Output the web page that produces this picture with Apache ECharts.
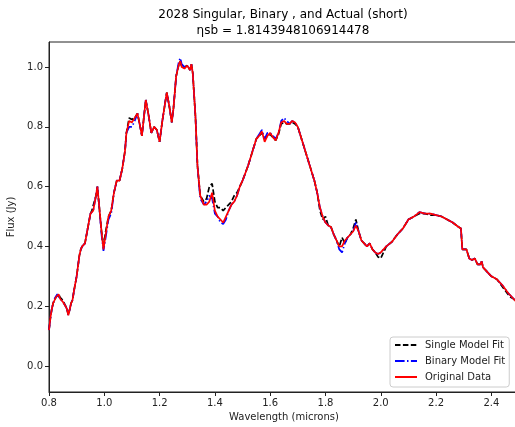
<!DOCTYPE html>
<html>
<head>
<meta charset="utf-8">
<script src="https://cdn.jsdelivr.net/npm/echarts@6/dist/echarts.min.js"></script>
<style>html,body{margin:0;padding:0;background:#fff}#c{width:515px;height:427px}</style>
</head>
<body>
<div id="c"></div>
<script>
const wavelength = [0.800,0.805,0.810,0.815,0.820,0.825,0.830,0.835,0.840,0.845,0.850,0.855,0.860,0.865,0.870,0.875,0.880,0.885,0.890,0.900,
0.910,0.915,0.920,0.930,0.940,0.950,0.955,0.960,0.970,0.975,0.980,0.990,0.997,1.005,1.015,1.025,1.035,1.045,1.055,1.065,
1.075,1.080,1.090,1.100,1.110,1.120,1.130,1.136,1.150,1.160,1.170,1.180,1.190,1.200,1.210,1.220,1.226,1.235,1.244,1.250,
1.260,1.270,1.275,1.280,1.290,1.300,1.310,1.315,1.320,1.330,1.337,1.347,1.360,1.370,1.380,1.390,1.400,1.410,1.420,1.430,
1.440,1.450,1.460,1.470,1.480,1.490,1.500,1.510,1.520,1.530,1.540,1.550,1.560,1.570,1.580,1.590,1.600,1.610,1.620,1.630,
1.640,1.650,1.660,1.670,1.680,1.690,1.700,1.710,1.720,1.730,1.740,1.750,1.760,1.770,1.780,1.790,1.800,1.810,1.820,1.830,
1.840,1.850,1.860,1.870,1.880,1.890,1.900,1.910,1.920,1.930,1.940,1.950,1.960,1.970,1.980,1.990,2.000,2.020,2.040,2.060,
2.080,2.100,2.120,2.140,2.160,2.180,2.200,2.220,2.240,2.260,2.280,2.290,2.295,2.300,2.310,2.320,2.330,2.340,2.350,2.360,
2.365,2.370,2.380,2.390,2.400,2.420,2.440,2.460,2.470,2.480,2.490,2.500];

const singleFit = [0.12,0.16,0.19,0.21,0.22,0.23,0.235,0.24,0.23,0.23,0.22,0.22,0.20,0.19,0.17,0.19,0.21,0.22,0.25,0.30,
0.37,0.39,0.40,0.41,0.46,0.51,0.52,0.52,0.57,0.60,0.55,0.45,0.40,0.45,0.50,0.52,0.58,0.62,0.62,0.66,
0.72,0.78,0.83,0.825,0.83,0.845,0.80,0.77,0.89,0.84,0.78,0.80,0.79,0.75,0.82,0.88,0.915,0.87,0.815,0.86,
0.97,1.01,1.02,1.00,1.00,1.005,0.99,1.01,0.98,0.83,0.67,0.57,0.55,0.56,0.60,0.61,0.55,0.53,0.53,0.52,
0.53,0.54,0.55,0.57,0.58,0.60,0.62,0.645,0.67,0.70,0.73,0.76,0.77,0.78,0.76,0.77,0.775,0.765,0.755,0.775,
0.81,0.815,0.81,0.81,0.815,0.81,0.80,0.77,0.74,0.71,0.68,0.65,0.62,0.58,0.52,0.49,0.50,0.47,0.465,0.44,
0.42,0.40,0.43,0.41,0.43,0.44,0.46,0.49,0.45,0.42,0.41,0.40,0.41,0.39,0.38,0.365,0.36,0.40,0.415,0.44,
0.46,0.49,0.50,0.51,0.51,0.505,0.505,0.50,0.49,0.48,0.466,0.46,0.39,0.385,0.39,0.36,0.355,0.36,0.34,0.34,
0.35,0.33,0.32,0.31,0.30,0.29,0.265,0.24,0.23,0.225,0.215,0.21];

const binaryFit = [0.12,0.16,0.19,0.21,0.225,0.23,0.24,0.24,0.225,0.23,0.215,0.22,0.20,0.19,0.17,0.19,0.21,0.22,0.25,0.30,
0.37,0.39,0.40,0.41,0.46,0.51,0.515,0.52,0.57,0.60,0.55,0.44,0.385,0.43,0.49,0.51,0.58,0.62,0.62,0.66,
0.72,0.78,0.80,0.80,0.82,0.845,0.80,0.77,0.89,0.84,0.78,0.80,0.79,0.75,0.82,0.88,0.915,0.87,0.815,0.86,
0.97,1.02,1.03,1.01,1.00,1.005,0.99,1.01,0.98,0.83,0.67,0.56,0.54,0.55,0.57,0.56,0.51,0.50,0.48,0.475,
0.49,0.52,0.54,0.55,0.57,0.60,0.62,0.645,0.67,0.70,0.73,0.76,0.775,0.79,0.76,0.78,0.78,0.77,0.76,0.78,
0.82,0.83,0.82,0.81,0.82,0.815,0.80,0.77,0.74,0.71,0.68,0.65,0.62,0.58,0.53,0.50,0.48,0.47,0.465,0.44,
0.42,0.39,0.38,0.41,0.43,0.44,0.45,0.48,0.45,0.42,0.41,0.40,0.41,0.39,0.38,0.375,0.38,0.40,0.415,0.44,
0.46,0.49,0.50,0.515,0.51,0.51,0.505,0.50,0.49,0.48,0.466,0.46,0.39,0.385,0.39,0.36,0.355,0.36,0.34,0.34,
0.35,0.33,0.32,0.31,0.30,0.29,0.27,0.245,0.235,0.225,0.215,0.21];

const originalData = [0.12,0.16,0.19,0.21,0.22,0.23,0.235,0.24,0.225,0.23,0.215,0.22,0.20,0.19,0.17,0.19,0.21,0.22,0.25,0.30,
0.37,0.39,0.40,0.41,0.46,0.51,0.515,0.52,0.57,0.60,0.55,0.45,0.39,0.44,0.50,0.52,0.58,0.62,0.62,0.66,
0.72,0.78,0.82,0.815,0.83,0.845,0.80,0.77,0.89,0.84,0.78,0.80,0.79,0.75,0.82,0.88,0.915,0.87,0.815,0.86,
0.97,1.01,1.02,1.00,0.995,1.005,0.99,1.01,0.98,0.83,0.67,0.57,0.54,0.54,0.55,0.58,0.52,0.50,0.49,0.48,
0.50,0.52,0.54,0.55,0.57,0.60,0.62,0.645,0.67,0.70,0.73,0.76,0.77,0.785,0.75,0.77,0.78,0.765,0.755,0.78,
0.815,0.82,0.81,0.81,0.82,0.815,0.80,0.77,0.74,0.71,0.68,0.65,0.62,0.58,0.53,0.50,0.48,0.47,0.465,0.44,
0.42,0.40,0.40,0.42,0.43,0.44,0.45,0.47,0.45,0.42,0.41,0.40,0.41,0.39,0.38,0.375,0.38,0.40,0.415,0.44,
0.46,0.49,0.50,0.515,0.51,0.51,0.505,0.50,0.49,0.48,0.466,0.46,0.39,0.385,0.39,0.36,0.355,0.36,0.34,0.34,
0.35,0.33,0.32,0.31,0.30,0.29,0.27,0.245,0.235,0.225,0.215,0.21];

const xTicks = [0.8,1.0,1.2,1.4,1.6,1.8,2.0,2.2,2.4];
const yTicks = [0.0,0.2,0.4,0.6,0.8,1.0];
const seriesNames = ['Single Model Fit','Binary Model Fit','Original Data'];
const titleLines = ['2028 Singular, Binary , and Actual (short)','\u03b7sb = 1.8143948106914478'];

const pairs = arr => wavelength.map((w,i)=>[w,arr[i]]);
const isTick = (v,ticks) => ticks.some(t=>Math.abs(t-v)<1e-6);
const FONT = 'DejaVu Sans';

const chart = echarts.init(document.getElementById('c'), null, {renderer:'canvas'});
chart.setOption({
  animation:false,
  textStyle:{fontFamily:FONT},
  title:{
    text: titleLines.join('\n'),
    left: 283, top: 7, textAlign:'center', padding:0,
    textStyle:{fontFamily:FONT,fontSize:12,fontWeight:'normal',color:'#000',lineHeight:16}
  },
  grid:{left:49, top:42, width:470, height:350, show:true, borderColor:'#222', borderWidth:1,
        containLabel:false, outerBoundsMode:'none'},
  xAxis:{
    type:'value', min:0.8, max:2.5, interval:0.2,
    splitLine:{show:false},
    axisLine:{show:true,onZero:false,lineStyle:{color:'#222',width:1}},
    axisTick:{show:true,inside:false,length:4,lineStyle:{color:'#222'},
      customValues: xTicks},
    axisLabel:{color:'#222',fontSize:10,margin:6,fontFamily:FONT,
      customValues: xTicks,
      formatter:v=> isTick(v,xTicks)? v.toFixed(1):''},
    name:'Wavelength (microns)', nameLocation:'middle', nameGap:20,
    nameTextStyle:{color:'#222',fontSize:10,fontFamily:FONT}
  },
  yAxis:{
    type:'value', min:-0.087, max:1.084,
    splitLine:{show:false},
    axisLine:{show:true,onZero:false,lineStyle:{color:'#222',width:1}},
    axisTick:{show:true,inside:false,length:4,lineStyle:{color:'#222'},
      customValues: yTicks},
    axisLabel:{color:'#222',fontSize:10,margin:6,fontFamily:FONT,
      customValues: yTicks,
      formatter:v=> isTick(v,yTicks)? v.toFixed(1):''},
    name:'Flux (Jy)', nameLocation:'middle', nameGap:31, nameRotate:90,
    nameTextStyle:{color:'#222',fontSize:10,fontFamily:FONT}
  },
  legend:{
    show:true,
    orient:'vertical', left:390, top:337,
    padding:[2,4,4,4], itemGap:4, itemWidth:22, itemHeight:12,
    backgroundColor:'rgba(255,255,255,0.8)', borderColor:'#cccccc', borderWidth:1, borderRadius:3,
    itemStyle:{color:'rgba(0,0,0,0)', borderColor:'rgba(0,0,0,0)', borderWidth:0},
    textStyle:{fontSize:10,color:'#222',fontFamily:FONT,lineHeight:12,padding:[0,0,0,3]},
    data: seriesNames
  },
  series:[
    {name:seriesNames[0], type:'line', data:pairs(singleFit), showSymbol:false, symbol:'none',
     lineStyle:{color:'#000',width:1.7,type:[5.5,2.4]}, itemStyle:{color:'#000'}, z:2},
    {name:seriesNames[1], type:'line', data:pairs(binaryFit), showSymbol:false, symbol:'none',
     lineStyle:{color:'#0000ff',width:1.7,type:[9.6,2.4,1.5,2.4]}, itemStyle:{color:'#0000ff'}, z:3},
    {name:seriesNames[2], type:'line', data:pairs(originalData), showSymbol:false, symbol:'none',
     lineStyle:{color:'#ff0000',width:1.7}, itemStyle:{color:'#ff0000'}, z:4}
  ]
});
</script>
</body>
</html>
